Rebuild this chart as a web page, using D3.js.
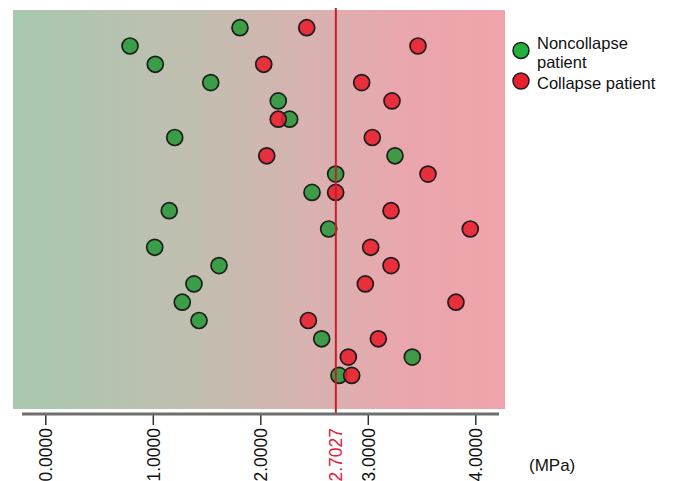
<!DOCTYPE html>
<html>
<head>
<meta charset="utf-8">
<script src="https://cdn.jsdelivr.net/npm/d3@7"></script>
<style>
	body { margin: 0; background: #fff; }
	svg { display: block; font-family: "Liberation Sans", Arial, sans-serif; }
</style>
</head>
<body>
<svg id="chart" width="680" height="481"></svg>
<script>
//data, one value per row (top to bottom)
var noncollapse = [1.811, 0.788, 1.023, 1.539, 2.167, 2.273, 1.204, 3.253, 2.701, 2.481,
	1.153, 2.636, 1.018, 1.616, 1.383, 1.274, 1.430, 2.571, 3.414, 2.732];
var collapse = [2.432, 3.467, 2.032, 2.943, 3.225, 2.167, 3.042, 2.060, 3.560, 2.701,
	3.216, 3.953, 3.027, 3.216, 2.977, 3.820, 2.447, 3.098, 2.819, 2.850];
var tickValues = [0, 1, 2, 3, 4];
var cutoff = 2.7027;
var legendLabels = [['Noncollapse', 'patient'], ['Collapse patient']];

drawChart();

function drawChart() {
	var svg = d3.select('#chart');

	//plot frame
	var box = {left: 13, right: 505, top: 10, bottom: 409};
	var x = d3.scaleLinear().domain([0, 4]).range([45.3, 475.3]);
	var y = d3.scalePoint().domain(d3.range(noncollapse.length)).range([27.7, 375.4]);

	//background gradient green -> pink
	var grad = svg.append('defs').append('linearGradient')
					.attr('id', 'bg_grad')
					.attr('x1', '0%').attr('x2', '100%')
					.attr('y1', '0%').attr('y2', '0%');
	var stops = [
		{o: '0%', c: '#a8c8b0'},
		{o: '38%', c: '#c2beb0'},
		{o: '60%', c: '#d8b2b0'},
		{o: '80%', c: '#eaa6ad'},
		{o: '100%', c: '#f0a3ab'}
	];
	grad.selectAll('stop').data(stops).enter().append('stop')
		.attr('offset', d => d.o)
		.attr('stop-color', d => d.c);

	svg.append('rect')
		.attr('x', box.left).attr('y', box.top)
		.attr('width', box.right - box.left)
		.attr('height', box.bottom - box.top)
		.style('fill', 'url(#bg_grad)');

	//points
	var g_pts = svg.append('g').attr('id', 'points');
	g_pts.selectAll('circle.nc').data(noncollapse).enter().append('circle')
		.attr('class', 'nc')
		.attr('cx', d => x(d))
		.attr('cy', (d, i) => y(i))
		.attr('r', 8)
		.style('fill', '#1c9630')
		.style('fill-opacity', 0.82)
		.style('stroke', '#1a1f1a')
		.style('stroke-width', 1.7);
	g_pts.selectAll('circle.c').data(collapse).enter().append('circle')
		.attr('class', 'c')
		.attr('cx', d => x(d))
		.attr('cy', (d, i) => y(i))
		.attr('r', 8)
		.style('fill', '#e81e2c')
		.style('fill-opacity', 0.88)
		.style('stroke', '#1f1a1a')
		.style('stroke-width', 1.7);

	//cutoff line
	svg.append('line')
		.attr('x1', x(cutoff)).attr('x2', x(cutoff))
		.attr('y1', 8).attr('y2', 413)
		.style('stroke', '#c81e2a')
		.style('stroke-width', 2);

	//x axis
	var axis = d3.axisBottom(x)
				.tickValues(tickValues)
				.tickFormat(d3.format('.4f'))
				.tickSize(11)
				.tickSizeOuter(0);
	var g_ax = svg.append('g')
				.attr('transform', 'translate(0,414)')
				.call(axis);
	g_ax.select('.domain').remove();
	g_ax.append('line')
		.attr('x1', 22).attr('x2', 499)
		.attr('y1', 0).attr('y2', 0)
		.style('stroke', '#6e6e6e')
		.style('stroke-width', 3);
	g_ax.selectAll('.tick line')
		.style('stroke', '#333')
		.style('stroke-width', 1.5);
	g_ax.selectAll('.tick text')
		.attr('transform', 'rotate(-90)')
		.attr('x', -14)
		.attr('y', 0)
		.attr('dy', '0.36em')
		.style('text-anchor', 'end')
		.style('font-size', '17.5px')
		.style('font-family', '"Liberation Sans", Arial, sans-serif')
		.style('fill', '#111');

	//cutoff label
	svg.append('text')
		.attr('transform', 'translate(' + x(cutoff) + ',428) rotate(-90)')
		.attr('dy', '0.36em')
		.style('text-anchor', 'end')
		.style('font-size', '17.5px')
		.style('fill', '#e0203a')
		.text(cutoff.toFixed(4));

	//unit
	svg.append('text')
		.attr('x', 529).attr('y', 471)
		.style('font-size', '17px')
		.style('fill', '#111')
		.text('(MPa)');

	//legend
	var legColors = ['#22b03c', '#e8202e'];
	var legY = [50.5, 81];
	var g_leg = svg.append('g').attr('id', 'legend');
	legendLabels.forEach(function(lines, i) {
		g_leg.append('circle')
			.attr('cx', 521).attr('cy', legY[i]).attr('r', 8)
			.style('fill', legColors[i])
			.style('stroke', '#1c1c1c')
			.style('stroke-width', 1.5);
		var t = g_leg.append('text')
					.attr('x', 537).attr('y', i == 0 ? 49 : 88.5)
					.style('font-size', '16.5px')
					.style('fill', '#111');
		lines.forEach(function(s, j) {
			t.append('tspan')
				.attr('x', 537)
				.attr('dy', j == 0 ? 0 : 18.5)
				.text(s);
		});
	});
}
</script>
</body>
</html>
